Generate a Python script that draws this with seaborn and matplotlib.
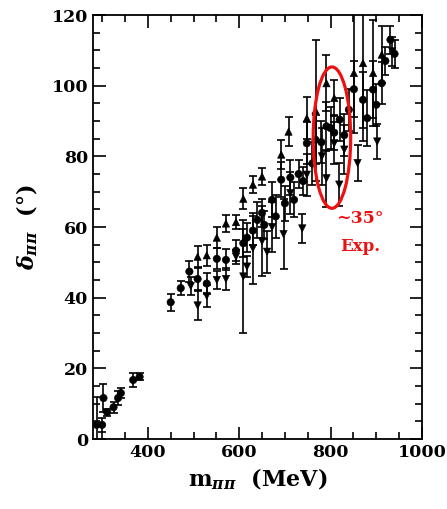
import numpy as np
import pandas as pd
import seaborn as sns
import matplotlib.pyplot as plt
from matplotlib.patches import Ellipse
from matplotlib.ticker import MultipleLocator

sns.set_style("ticks")
plt.rcParams['font.family'] = ['DejaVu Serif']
plt.rcParams['font.weight'] = 'bold'
plt.rcParams['mathtext.fontset'] = 'dejavuserif'
for key in ['text.color', 'axes.labelcolor', 'xtick.color', 'ytick.color']:
    plt.rcParams[key] = 'black'

# circles
circX = [288, 300, 303, 311, 325, 335, 341, 368, 382, 450, 472, 491, 509, 529, 551, 571, 593, 609,
         617, 630, 640, 650, 655, 672, 680, 692, 700, 712, 720, 730, 740, 748, 760, 767, 780, 791,
         800, 808, 820, 830, 840, 851, 871, 880, 893, 900, 912, 920, 931, 940]
circY = [4, 4, 11.6, 7.6, 9, 11.6, 13, 16.7, 17.6, 38.7, 42.7, 47.4, 45.3, 44, 51, 50.7, 53.3, 55.4,
         57, 59, 62, 64, 60.6, 67.7, 63, 73.4, 66.7, 74, 67.7, 75, 73, 83.7, 78, 84.7, 84, 88.5,
         88, 86.7, 90.4, 86, 93.2, 99, 96, 90.8, 98.9, 94.6, 100.7, 107, 113, 109]
circE = [8, 2, 4, 1, 1.5, 2, 1.5, 2, 1, 2.4, 2, 3, 3, 3, 3, 3, 3, 4,
         4, 4, 5, 4, 4, 5, 6, 5, 5, 5, 5, 4, 4, 6, 6, 7, 6, 7,
         6, 5, 6, 6, 6, 8, 8, 8, 8, 6, 6, 4, 4, 4]

# up triangles
upX = [509, 529, 551, 571, 593, 609, 630, 650, 692, 708, 748, 767, 791, 808, 851, 871, 893, 912]
upY = [51.6, 52, 57, 61, 61.4, 68, 72, 74.3, 80.5, 87, 90.8, 93, 100.7, 96.5, 103.6, 106.4, 103.6, 108.8]
upE = [3, 3, 3, 2.5, 2, 3, 2.5, 2.5, 4, 4, 6, 20, 8, 5, 17, 22, 15, 8]

# down triangles
dnX = [494, 509, 529, 551, 571, 593, 609, 617, 630, 650, 661, 672, 697, 712, 738, 748, 781, 791,
       808, 819, 830, 859, 902, 935]
dnY = [43.3, 37.8, 40.5, 45, 45.3, 51.6, 46, 48.8, 54, 56, 53, 60, 58, 69.6, 59.6, 74.8, 80, 73.8,
       83.7, 72, 81.9, 78.1, 84.2, 109.7]
dnE = [2.5, 4, 3, 2.5, 3, 2, 16, 3, 10, 10, 6, 7, 10, 6, 4, 6, 8, 8,
       6, 6, 7, 5, 5, 4]

df = pd.concat([
    pd.DataFrame({'m': circX, 'delta': circY, 'err': circE, 'kind': 'circ'}),
    pd.DataFrame({'m': upX, 'delta': upY, 'err': upE, 'kind': 'up'}),
    pd.DataFrame({'m': dnX, 'delta': dnY, 'err': dnE, 'kind': 'down'}),
])

fig = plt.figure(figsize=(4.47, 5.09), dpi=100)
ax = fig.add_axes([0.208, 0.1375, 0.736, 0.833])

ax.errorbar(df['m'], df['delta'], yerr=df['err'], fmt='none', ecolor='black',
            elinewidth=1.2, capsize=3.2, capthick=1.2, zorder=2)
sns.scatterplot(data=df, x='m', y='delta', style='kind',
                markers={'circ': 'o', 'up': '^', 'down': 'v'},
                color='black', edgecolor='black', s=28, legend=False, ax=ax, zorder=3)

# red ellipse and annotation
ax.add_patch(Ellipse((803, 85.3), 82, 40, fill=False, edgecolor='#ee1111', lw=2.3, zorder=4))
ax.text(865, 62.3, '~35°', color='#ee1111', fontsize=12.5, fontweight='bold',
        ha='center', va='center')
ax.text(865, 54.4, 'Exp.', color='#ee1111', fontsize=12, fontweight='bold',
        ha='center', va='center')

ax.set_xlim(280, 1000)
ax.set_ylim(0, 120)
ax.xaxis.set_major_locator(MultipleLocator(200))
ax.xaxis.set_minor_locator(MultipleLocator(50))
ax.yaxis.set_major_locator(MultipleLocator(20))
ax.yaxis.set_minor_locator(MultipleLocator(5))
ax.tick_params(which='both', direction='in', top=True, right=True, width=1.2, labelsize=12.5)
ax.tick_params(which='major', length=9)
ax.tick_params(which='minor', length=5)
for sp in ax.spines.values():
    sp.set_linewidth(1.3)
    sp.set_color('black')
for lab in ax.get_xticklabels() + ax.get_yticklabels():
    lab.set_fontweight('bold')

ax.set_xlabel(r'm$_{\pi\pi}$  (MeV)', fontsize=16, fontweight='bold', labelpad=4)
ax.set_ylabel(r'$\delta_{\pi\pi}$  (°)', fontsize=16, fontweight='bold', labelpad=8)

fig.savefig('out.png', dpi=100)
